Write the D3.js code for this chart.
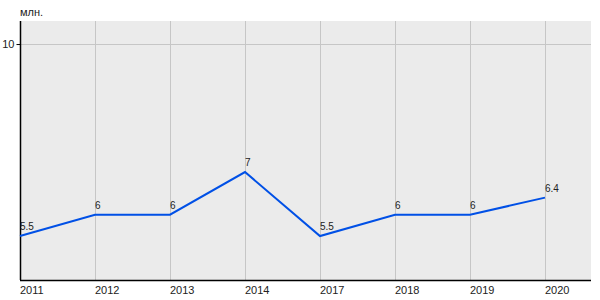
<!DOCTYPE html>
<html>
<head>
<meta charset="utf-8">
<script src="https://cdn.jsdelivr.net/npm/d3@7"></script>
<style>
  body { margin: 0; background: #fff; }
  text { font-family: "Liberation Sans", Arial, sans-serif; font-size: 11px; fill: #222; }
</style>
</head>
<body>
<div id="chart"></div>
<script>
var width = 600
var height = 300

// data
var years = ["2011", "2012", "2013", "2014", "2017", "2018", "2019", "2020"]
var values = [5.5, 6, 6, 7, 5.5, 6, 6, 6.4]
var labels = ["5.5", "6", "6", "7", "5.5", "6", "6", "6.4"]
var yTicks = [10]

var plotLeft = 20, plotRight = 591, plotTop = 21, plotBottom = 280

var svg = d3.select("#chart")
  .append("svg")
    .attr("width", width)
    .attr("height", height)

var x = d3.scalePoint()
  .domain(years)
  .range([plotLeft, 545])

var y = d3.scaleLinear()
  .domain([4.47, 10.54])
  .range([plotBottom, plotTop])

// plot background
svg.append("rect")
  .attr("x", plotLeft).attr("y", plotTop)
  .attr("width", plotRight - plotLeft).attr("height", plotBottom - plotTop)
  .attr("fill", "#ebebeb")

// vertical grid
svg.append("g")
  .selectAll("line")
  .data(years.slice(1))
  .enter().append("line")
    .attr("x1", function(d){ return x(d) + 0.5 })
    .attr("x2", function(d){ return x(d) + 0.5 })
    .attr("y1", plotTop).attr("y2", plotBottom)
    .attr("stroke", "#c6c6c6")

// horizontal grid
svg.append("g")
  .selectAll("line")
  .data(yTicks)
  .enter().append("line")
    .attr("x1", plotLeft).attr("x2", plotRight)
    .attr("y1", function(d){ return Math.round(y(d)) + 0.5 })
    .attr("y2", function(d){ return Math.round(y(d)) + 0.5 })
    .attr("stroke", "#c6c6c6")

// y axis
var yAxis = svg.append("g")
  .attr("transform", "translate(" + (plotLeft + 0.5) + ",0)")
  .call(d3.axisLeft(y).tickValues(yTicks).tickSize(4).tickPadding(2).tickFormat(d3.format("d")))
yAxis.select(".domain").remove()
yAxis.selectAll("line").attr("stroke", "#000")
yAxis.selectAll("text").style("font-size", "11px").style("font-family", "Liberation Sans, Arial, sans-serif").attr("fill", "#222")

svg.append("line")
  .attr("x1", plotLeft + 0.5).attr("x2", plotLeft + 0.5)
  .attr("y1", plotTop).attr("y2", plotBottom)
  .attr("stroke", "#000").attr("stroke-width", 1.5)

// x axis
svg.append("line")
  .attr("x1", plotLeft).attr("x2", plotRight)
  .attr("y1", plotBottom + 0.5).attr("y2", plotBottom + 0.5)
  .attr("stroke", "#000").attr("stroke-width", 1.5)

svg.append("g")
  .selectAll("text")
  .data(years)
  .enter().append("text")
    .attr("x", function(d){ return x(d) })
    .attr("y", plotBottom + 14)
    .text(function(d){ return d })

// unit label
svg.append("text")
  .attr("x", plotLeft)
  .attr("y", 16)
  .text("млн.")

// line
var line = d3.line()
  .x(function(d, i){ return x(years[i]) })
  .y(function(d){ return y(d) })

svg.append("path")
  .datum(values)
  .attr("fill", "none")
  .attr("stroke", "#0050e6")
  .attr("stroke-width", 2)
  .attr("d", line)

// value labels
svg.append("g")
  .selectAll("text")
  .data(values)
  .enter().append("text")
    .attr("x", function(d, i){ return x(years[i]) })
    .attr("y", function(d){ return y(d) - 6 })
    .style("font-size", "10px")
    .text(function(d, i){ return labels[i] })
</script>
</body>
</html>
